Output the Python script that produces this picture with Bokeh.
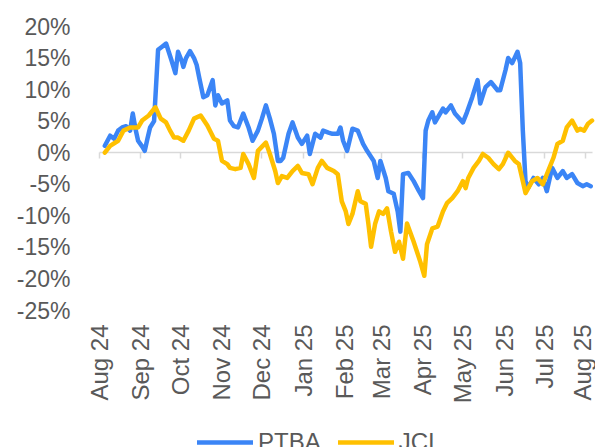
import math
from datetime import datetime
import pandas as pd
from bokeh.plotting import figure
from bokeh.models import (Range1d, DatetimeAxis, FixedTicker, DatetimeTickFormatter,
                          PrintfTickFormatter, Legend, LegendItem, ColumnDataSource)
from bokeh.embed import file_html
from bokeh.resources import INLINE

# ---------------- data (percent change) ----------------
ptba_dates = [
    "2024-08-05", "2024-08-09", "2024-08-12", "2024-08-15", "2024-08-18", "2024-08-21", "2024-08-24", "2024-08-26", "2024-08-28", "2024-08-30",
    "2024-09-02", "2024-09-04", "2024-09-06", "2024-09-08", "2024-09-11", "2024-09-14", "2024-09-17", "2024-09-20", "2024-09-22", "2024-09-24",
    "2024-09-27", "2024-09-29", "2024-10-02", "2024-10-03", "2024-10-05", "2024-10-08", "2024-10-11", "2024-10-13", "2024-10-15", "2024-10-18",
    "2024-10-21", "2024-10-25", "2024-10-27", "2024-10-29", "2024-11-01", "2024-11-05", "2024-11-07", "2024-11-10", "2024-11-13", "2024-11-17",
    "2024-11-21", "2024-11-24", "2024-11-28", "2024-12-01", "2024-12-04", "2024-12-07", "2024-12-10", "2024-12-13", "2024-12-15", "2024-12-17",
    "2024-12-21", "2024-12-24", "2024-12-28", "2024-12-31", "2025-01-04", "2025-01-06", "2025-01-10", "2025-01-14", "2025-01-16", "2025-01-20",
    "2025-01-23", "2025-01-27", "2025-01-29", "2025-01-31", "2025-02-03", "2025-02-07", "2025-02-11", "2025-02-15", "2025-02-18", "2025-02-23",
    "2025-02-26", "2025-02-28", "2025-03-04", "2025-03-06", "2025-03-10", "2025-03-13", "2025-03-15", "2025-03-17", "2025-03-21", "2025-03-25",
    "2025-03-29", "2025-04-01", "2025-04-03", "2025-04-05", "2025-04-08", "2025-04-10", "2025-04-16", "2025-04-18", "2025-04-22", "2025-04-25",
    "2025-05-01", "2025-05-04", "2025-05-08", "2025-05-12", "2025-05-14", "2025-05-18", "2025-05-22", "2025-05-27", "2025-05-29", "2025-06-02",
    "2025-06-04", "2025-06-07", "2025-06-11", "2025-06-13", "2025-06-15", "2025-06-17", "2025-06-19", "2025-06-23", "2025-06-27", "2025-06-30",
    "2025-07-03", "2025-07-07", "2025-07-11", "2025-07-15", "2025-07-18", "2025-07-22", "2025-07-26", "2025-07-30", "2025-08-02", "2025-08-05",
]
ptba_pct = [
    1.1, 2.7, 2.2, 3.5, 4.0, 4.2, 3.5, 6.2, 3.8, 1.9,
    1.0, 0.3, 2.2, 4.0, 5.0, 16.3, 16.8, 17.3, 16.0, 14.7,
    12.6, 16.0, 14.4, 13.6, 15.0, 16.1, 15.0, 13.9, 11.8, 8.8,
    9.1, 11.5, 7.5, 9.1, 7.8, 8.3, 5.1, 4.2, 4.0, 6.2,
    4.0, 1.9, 3.5, 5.4, 7.5, 5.4, 3.0, -1.3, -1.3, -0.8,
    3.0, 4.8, 2.4, 1.4, 2.7, -0.2, 3.0, 2.4, 3.5, 3.2,
    3.0, 3.0, 4.0, 1.9, 0.3, 3.8, 3.5, 1.4, 0.3, -1.3,
    -4.0, -1.3, -4.0, -6.1, -6.5, -9.3, -12.5, -3.4, -3.2, -4.5,
    -6.1, -7.2, 3.5, 5.1, 6.4, 4.8, 7.0, 6.4, 7.5, 6.2,
    4.8, 6.4, 8.8, 11.5, 7.8, 10.4, 11.2, 9.9, 9.9, 13.1,
    15.0, 14.2, 16.0, 14.2, 3.5, -4.5, -5.6, -4.0, -5.0, -4.0,
    -6.1, -2.4, -4.0, -2.9, -4.0, -3.4, -4.8, -5.3, -5.0, -5.3,
]
jci_dates = [
    "2024-08-05", "2024-08-09", "2024-08-15", "2024-08-19", "2024-08-24", "2024-08-30", "2024-09-02", "2024-09-07", "2024-09-12", "2024-09-16",
    "2024-09-20", "2024-09-23", "2024-09-26", "2024-09-29", "2024-10-03", "2024-10-07", "2024-10-11", "2024-10-16", "2024-10-21", "2024-10-26",
    "2024-10-29", "2024-11-01", "2024-11-05", "2024-11-07", "2024-11-11", "2024-11-15", "2024-11-17", "2024-11-21", "2024-11-25", "2024-11-28",
    "2024-12-04", "2024-12-07", "2024-12-11", "2024-12-13", "2024-12-16", "2024-12-20", "2024-12-24", "2024-12-28", "2024-12-31", "2025-01-05",
    "2025-01-08", "2025-01-12", "2025-01-15", "2025-01-19", "2025-01-24", "2025-01-27", "2025-01-30", "2025-02-02", "2025-02-04", "2025-02-07",
    "2025-02-11", "2025-02-13", "2025-02-17", "2025-02-19", "2025-02-21", "2025-02-24", "2025-02-27", "2025-03-02", "2025-03-05", "2025-03-08",
    "2025-03-11", "2025-03-14", "2025-03-17", "2025-03-20", "2025-03-25", "2025-03-30", "2025-04-02", "2025-04-04", "2025-04-08", "2025-04-12",
    "2025-04-16", "2025-04-19", "2025-04-23", "2025-04-27", "2025-05-01", "2025-05-03", "2025-05-05", "2025-05-09", "2025-05-13", "2025-05-16",
    "2025-05-20", "2025-05-24", "2025-05-28", "2025-05-31", "2025-06-04", "2025-06-09", "2025-06-12", "2025-06-15", "2025-06-17", "2025-06-22",
    "2025-06-26", "2025-06-30", "2025-07-04", "2025-07-08", "2025-07-11", "2025-07-15", "2025-07-18", "2025-07-22", "2025-07-26", "2025-07-28",
    "2025-07-31", "2025-08-03", "2025-08-06",
]
jci_pct = [
    0.0, 1.1, 1.9, 3.5, 4.0, 4.0, 5.1, 5.9, 7.2, 5.4,
    4.8, 3.5, 2.4, 2.4, 1.9, 3.5, 5.4, 5.9, 4.3, 2.2,
    1.9, -1.3, -1.8, -2.4, -2.6, -2.4, -0.2, -1.8, -4.0, 0.3,
    1.6, -0.2, -2.9, -4.8, -3.7, -4.0, -2.9, -2.1, -3.2, -3.4,
    -5.0, -2.4, -1.3, -2.4, -2.9, -3.4, -7.7, -9.3, -11.3, -9.7,
    -6.1, -7.7, -8.1, -11.3, -14.9, -11.3, -9.3, -9.7, -8.8, -12.5,
    -15.7, -14.1, -16.8, -11.2, -14.1, -17.3, -19.5, -14.5, -12.0, -11.7,
    -9.3, -8.0, -7.2, -6.1, -4.5, -5.6, -4.0, -2.4, -1.3, -0.2,
    -0.8, -1.8, -2.6, -1.8, 0.0, -1.3, -1.8, -4.5, -6.4, -4.5,
    -4.0, -5.0, -2.9, -0.8, 1.4, 1.9, 4.0, 5.1, 3.5, 3.8,
    3.5, 4.6, 5.1,
]
month_ticks = ["2024-08-01", "2024-09-01", "2024-10-01", "2024-11-01", "2024-12-01", "2025-01-01",
               "2025-02-01", "2025-03-01", "2025-04-01", "2025-05-01", "2025-06-01", "2025-07-01", "2025-08-01"]
y_ticks = [-25, -20, -15, -10, -5, 0, 5, 10, 15, 20]
y_min, y_max = -25, 20
x_first = datetime(2024, 8, 1)
x_last = datetime(2025, 8, 6, 8)
series_names = ["PTBA", "JCI"]

# ---------------- style / layout ----------------
BLUE = "#3B85F6"
GOLD = "#FFC000"
TEXT = "#595959"
AXIS = "#D9D9D9"
FONT = "Liberation Sans"

W, H = 595, 447
PLOT_L, PLOT_R = 99, 592          # page x of the axis start / end
FRAME_L, FRAME_R = 80, 595        # frame is a bit wider so edge labels are not clipped
TOP = 26
AXIS_BOTTOM_PX = 310              # page y of the -25% level

px_per_unit = (AXIS_BOTTOM_PX - TOP) / (y_max - y_min)
y_view_start = y_max - (H - TOP) / px_per_unit

x_span = pd.Timestamp(x_last) - pd.Timestamp(x_first)
per_px = x_span / (PLOT_R - PLOT_L)
x_view_start = pd.Timestamp(x_first) - per_px * (PLOT_L - FRAME_L)
x_view_end = pd.Timestamp(x_last) + per_px * (FRAME_R - PLOT_R)

tick_ms = [pd.Timestamp(d).value / 1e6 for d in month_ticks]

p = figure(width=W, height=H, x_axis_type="datetime",
           output_backend="svg", toolbar_location=None,
           x_range=Range1d(start=x_view_start.to_pydatetime(), end=x_view_end.to_pydatetime()),
           y_range=Range1d(y_view_start, y_max),
           min_border_left=FRAME_L, min_border_right=W - FRAME_R,
           min_border_top=TOP, min_border_bottom=0)
p.outline_line_color = None
p.xgrid.visible = False
p.ygrid.visible = False
p.background_fill_color = "white"
p.border_fill_color = "white"

xa = p.below[0]   # the date-label axis
ya = p.left[0]

# zero line with month ticks pointing down (drawn beneath the series)
zero_axis = DatetimeAxis(fixed_location=0, ticker=FixedTicker(ticks=tick_ms),
                         bounds=(x_first, x_last),
                         axis_line_color=AXIS, axis_line_width=1.5,
                         major_tick_out=6, major_tick_in=0,
                         major_tick_line_color=AXIS, major_tick_line_width=1.5,
                         minor_tick_line_color=None,
                         major_label_text_color=None, major_label_text_font_size="1px",
                         level="underlay")
p.add_layout(zero_axis, "below")

src_p = ColumnDataSource(dict(x=pd.to_datetime(ptba_dates), y=ptba_pct))
src_j = ColumnDataSource(dict(x=pd.to_datetime(jci_dates), y=jci_pct))
r1 = p.line("x", "y", source=src_p, line_color=BLUE, line_width=4.5,
            line_join="round", line_cap="round")
r2 = p.line("x", "y", source=src_j, line_color=GOLD, line_width=4.5,
            line_join="round", line_cap="round")

# date labels hang below the -25% level
xa.fixed_location = y_min
xa.ticker = FixedTicker(ticks=tick_ms)
xa.formatter = DatetimeTickFormatter(days="%b %y", months="%b %y", years="%b %y")
xa.axis_line_color = None
xa.major_tick_line_color = None
xa.minor_tick_line_color = None
xa.major_label_orientation = math.pi / 2
xa.major_label_standoff = 8
xa.major_label_text_font = FONT
xa.major_label_text_font_size = "24px"
xa.major_label_text_color = TEXT

ya.ticker = FixedTicker(ticks=y_ticks)
ya.formatter = PrintfTickFormatter(format="%d%%")
ya.axis_line_color = None
ya.major_tick_line_color = None
ya.minor_tick_line_color = None
ya.major_label_standoff = 4
ya.major_label_text_font = FONT
ya.major_label_text_font_size = "23px"
ya.major_label_text_color = TEXT

legend = Legend(items=[LegendItem(label=series_names[0], renderers=[r1]),
                       LegendItem(label=series_names[1], renderers=[r2])],
                location=(197 - FRAME_L, -9), orientation="horizontal",
                glyph_width=56, glyph_height=16, label_standoff=5, spacing=17,
                padding=0, margin=0, border_line_color=None,
                background_fill_alpha=0,
                label_text_font=FONT, label_text_font_size="24px",
                label_text_color=TEXT)
p.add_layout(legend)

open("out.html", "w").write(file_html(p, INLINE))
